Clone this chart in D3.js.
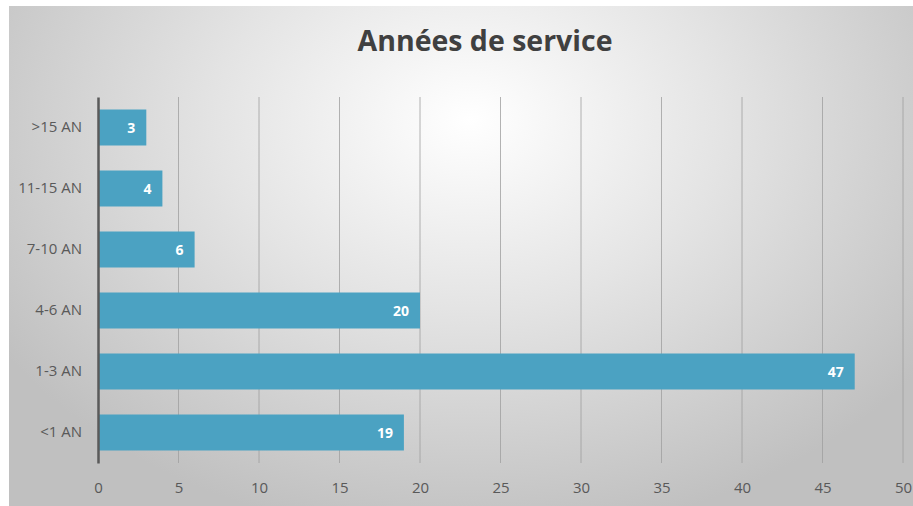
<!DOCTYPE html>
<html>
<head>
<meta charset="utf-8">
<script src="https://cdn.jsdelivr.net/npm/d3@7"></script>
<style>
  body { margin: 0; background: #fff; }
  svg { display: block; font-family: "Open Sans", "Noto Sans", sans-serif; }
</style>
</head>
<body>
<svg id="chart" width="913" height="506"></svg>
<script>
// data
var categories = ["<1 AN", "1-3 AN", "4-6 AN", "7-10 AN", "11-15 AN", ">15 AN"];
var values = [19, 47, 20, 6, 4, 3];
var xTicks = [0, 5, 10, 15, 20, 25, 30, 35, 40, 45, 50];
var title = "Années de service";

var svg = d3.select("#chart");
var margin = {left: 98, right: 10, top: 97, bottom: 43};
var width = 903 - margin.left;
var height = 463 - margin.top;

// background panel with radial shading
var defs = svg.append("defs");
var grad = defs.append("radialGradient")
    .attr("id", "bg")
    .attr("gradientUnits", "userSpaceOnUse")
    .attr("cx", 470).attr("cy", 120).attr("r", 560)
    .attr("gradientTransform", "translate(470,120) scale(1,0.75) translate(-470,-120)");
grad.append("stop").attr("offset", "0%").attr("stop-color", "#ffffff");
grad.append("stop").attr("offset", "45%").attr("stop-color", "#e4e4e4");
grad.append("stop").attr("offset", "100%").attr("stop-color", "#c0c0c0");

svg.append("rect")
    .attr("x", 9).attr("y", 6)
    .attr("width", 904).attr("height", 500)
    .attr("fill", "url(#bg)");

var g = svg.append("g")
    .attr("transform", "translate(" + margin.left + "," + margin.top + ")");

var x = d3.scaleLinear().domain([0, 50]).range([0, width]);
var y = d3.scaleBand()
    .domain(categories.slice().reverse())
    .range([0, height])
    .paddingInner(0.41)
    .paddingOuter(0.205);

// vertical grid lines
g.selectAll(".grid")
    .data(xTicks.slice(1))
  .enter().append("line")
    .attr("class", "grid")
    .attr("x1", d => x(d)).attr("x2", d => x(d))
    .attr("y1", 0).attr("y2", height)
    .attr("stroke", "#a0a0a0")
    .attr("stroke-width", 0.8);

// bars
g.selectAll(".bar")
    .data(categories)
  .enter().append("rect")
    .attr("class", "bar")
    .attr("x", 0)
    .attr("y", d => y(d))
    .attr("width", (d, i) => x(values[i]))
    .attr("height", y.bandwidth())
    .attr("fill", "#4ba2c2");

// value labels inside bar ends
g.selectAll(".val")
    .data(categories)
  .enter().append("text")
    .attr("class", "val")
    .attr("x", (d, i) => x(values[i]) - 11)
    .attr("y", d => y(d) + y.bandwidth() / 2)
    .attr("dy", "0.36em")
    .attr("text-anchor", "end")
    .attr("fill", "#ffffff")
    .attr("font-weight", "bold")
    .attr("font-size", "14px")
    .text((d, i) => values[i]);

// x axis labels
var xAxis = d3.axisBottom(x).tickValues(xTicks).tickSize(0).tickPadding(19);
var xg = g.append("g")
    .attr("transform", "translate(0," + height + ")")
    .call(xAxis);
xg.select(".domain").remove();
xg.selectAll("text")
    .attr("fill", "#595959")
    .attr("font-size", "15px")
    .attr("font-family", "Open Sans, sans-serif");

// category axis
var yAxis = d3.axisLeft(y).tickSize(0).tickPadding(16);
var yg = g.append("g").call(yAxis);
yg.select(".domain")
    .attr("stroke", "#5a5a5a")
    .attr("stroke-width", 2.5);
yg.selectAll("text")
    .attr("fill", "#595959")
    .attr("font-size", "15px")
    .attr("font-family", "Open Sans, sans-serif");

// title
svg.append("text")
    .attr("x", 485)
    .attr("y", 51)
    .attr("text-anchor", "middle")
    .attr("fill", "#404040")
    .attr("font-weight", "bold")
    .attr("font-size", "28.5px")
    .text(title);
</script>
</body>
</html>
